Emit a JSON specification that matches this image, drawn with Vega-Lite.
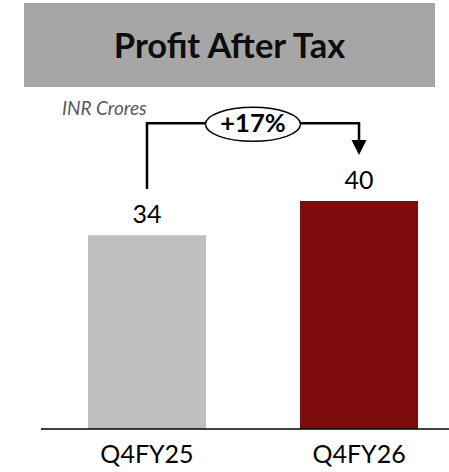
{
  "$schema": "https://vega.github.io/schema/vega-lite/v6.json",
  "padding": {"left": 24, "top": 3, "right": 0, "bottom": 0},
  "background": "white",
  "spacing": 8,
  "config": {"view": {"stroke": null}, "font": "Lato"},
  "datasets": {
    "bars": [
      {"period": "Q4FY25", "value": 34},
      {"period": "Q4FY26", "value": 40}
    ],
    "baseline": [
      {"period": "Q4FY25", "periodEnd": "Q4FY26", "value": 0}
    ],
    "connector": [
      {"period": "Q4FY25", "value": 42.1, "step": 1},
      {"period": "Q4FY25", "value": 53.65, "step": 2},
      {"period": "Q4FY26", "value": 53.65, "step": 3},
      {"period": "Q4FY26", "value": 50.0, "step": 4}
    ],
    "arrow": [
      {"period": "Q4FY26", "value": 49.4}
    ],
    "growth": [
      {"period": "Q4FY25", "value": 53.45, "textValue": 52.1, "label": "+17%"}
    ],
    "unit": [
      {"period": "Q4FY25", "value": 55.1, "label": "INR Crores"}
    ]
  },
  "vconcat": [
    {
      "width": 411,
      "height": 84,
      "view": {"fill": "#a6a6a6", "stroke": null},
      "data": {"values": [{"title": "Profit After Tax"}]},
      "mark": {"type": "text", "font": "Lato", "fontSize": 34.5, "fontWeight": "bold", "color": "#0d0d0d", "baseline": "middle", "dy": 3},
      "encoding": {"text": {"field": "title"}}
    },
    {
      "width": 425,
      "height": 334,
      "layer": [
        {
          "data": {"name": "bars"},
          "mark": {"type": "bar"},
          "encoding": {
            "x": {
              "field": "period", "type": "nominal", "sort": null,
              "scale": {"paddingInner": 0.4434, "paddingOuter": 0.224, "align": 0.6737},
              "axis": {"title": null, "domain": false, "ticks": false, "tickSize": 0, "labelFont": "Lato", "labelFontSize": 25, "labelColor": "#000000", "labelPadding": 13, "labelAngle": 0}
            },
            "y": {
              "field": "value", "type": "quantitative",
              "scale": {"domain": [0, 58.6], "nice": false, "zero": true},
              "axis": null
            },
            "color": {
              "field": "period", "type": "nominal",
              "scale": {"domain": ["Q4FY25", "Q4FY26"], "range": ["#bfbfbf", "#7f0c0c"]},
              "legend": null
            }
          }
        },
        {
          "data": {"name": "baseline"},
          "mark": {"type": "rule", "color": "#000000", "strokeWidth": 1.5},
          "encoding": {
            "x": {"field": "period", "type": "nominal", "sort": null, "bandPosition": -0.398},
            "x2": {"field": "periodEnd", "bandPosition": 1.263},
            "y": {"field": "value", "type": "quantitative"}
          }
        },
        {
          "data": {"name": "bars"},
          "mark": {"type": "text", "fontSize": 25, "color": "#000000", "baseline": "alphabetic", "dy": -12},
          "encoding": {
            "x": {"field": "period", "type": "nominal", "sort": null},
            "y": {"field": "value", "type": "quantitative"},
            "text": {"field": "value", "type": "quantitative"}
          }
        },
        {
          "data": {"name": "connector"},
          "mark": {"type": "line", "color": "#000000", "strokeWidth": 2.5, "strokeCap": "butt", "strokeJoin": "miter"},
          "encoding": {
            "x": {"field": "period", "type": "nominal", "sort": null},
            "y": {"field": "value", "type": "quantitative"},
            "order": {"field": "step", "type": "quantitative"}
          }
        },
        {
          "data": {"name": "arrow"},
          "mark": {"type": "point", "shape": "M-1,-1L1,-1L0,1Z", "size": 225, "filled": true, "color": "#000000", "opacity": 1},
          "encoding": {
            "x": {"field": "period", "type": "nominal", "sort": null},
            "y": {"field": "value", "type": "quantitative"}
          }
        },
        {
          "data": {"name": "growth"},
          "mark": {"type": "point", "shape": "M-1,0C-1,-0.198,-0.552,-0.358,0,-0.358C0.552,-0.358,1,-0.198,1,0C1,0.198,0.552,0.358,0,0.358C-0.552,0.358,-1,0.198,-1,0Z", "size": 9025, "filled": true, "fill": "#ffffff", "stroke": "#000000", "strokeWidth": 1.5, "opacity": 1},
          "encoding": {
            "x": {"field": "period", "type": "nominal", "sort": null, "bandPosition": 1.398},
            "y": {"field": "value", "type": "quantitative"}
          }
        },
        {
          "data": {"name": "growth"},
          "mark": {"type": "text", "fontSize": 25.5, "fontWeight": "bold", "color": "#000000", "baseline": "alphabetic"},
          "encoding": {
            "x": {"field": "period", "type": "nominal", "sort": null, "bandPosition": 1.398},
            "y": {"field": "textValue", "type": "quantitative"},
            "text": {"field": "label"}
          }
        },
        {
          "data": {"name": "unit"},
          "mark": {"type": "text", "fontSize": 19, "fontStyle": "italic", "color": "#595959", "align": "left", "baseline": "alphabetic"},
          "encoding": {
            "x": {"field": "period", "type": "nominal", "sort": null, "bandPosition": -0.22},
            "y": {"field": "value", "type": "quantitative"},
            "text": {"field": "label"}
          }
        }
      ]
    }
  ]
}
